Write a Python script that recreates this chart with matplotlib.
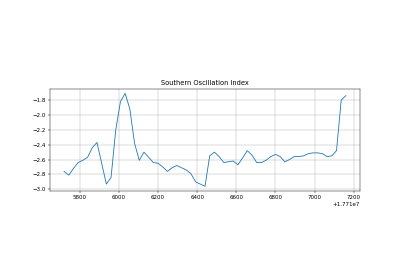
import numpy as np
import matplotlib
matplotlib.use("Agg")
import matplotlib.pyplot as plt

title = "Southern Oscillation Index"
x_start = 17715720
x_step = 24
soi = [-2.76, -2.81, -2.72, -2.64, -2.61, -2.57, -2.44, -2.37, -2.65, -2.93,
       -2.84, -2.20, -1.82, -1.71, -1.92, -2.38, -2.61, -2.50, -2.57, -2.64,
       -2.65, -2.70, -2.76, -2.71, -2.68, -2.71, -2.74, -2.79, -2.90, -2.93,
       -2.96, -2.55, -2.50, -2.56, -2.64, -2.63, -2.62, -2.67, -2.58, -2.48,
       -2.54, -2.64, -2.64, -2.61, -2.56, -2.53, -2.56, -2.63, -2.60, -2.56,
       -2.56, -2.55, -2.52, -2.51, -2.51, -2.52, -2.56, -2.55, -2.48, -1.80,
       -1.74]
x = x_start + x_step * np.arange(len(soi))

fig = plt.figure(figsize=(10, 7), dpi=40)
ax = fig.add_axes([0.125, 0.318, 0.775, 0.365])
ax.plot(x, soi, color="#1f77b4")
ax.set_title(title)
ax.grid(True)
fig.savefig("out.png", dpi=40)
